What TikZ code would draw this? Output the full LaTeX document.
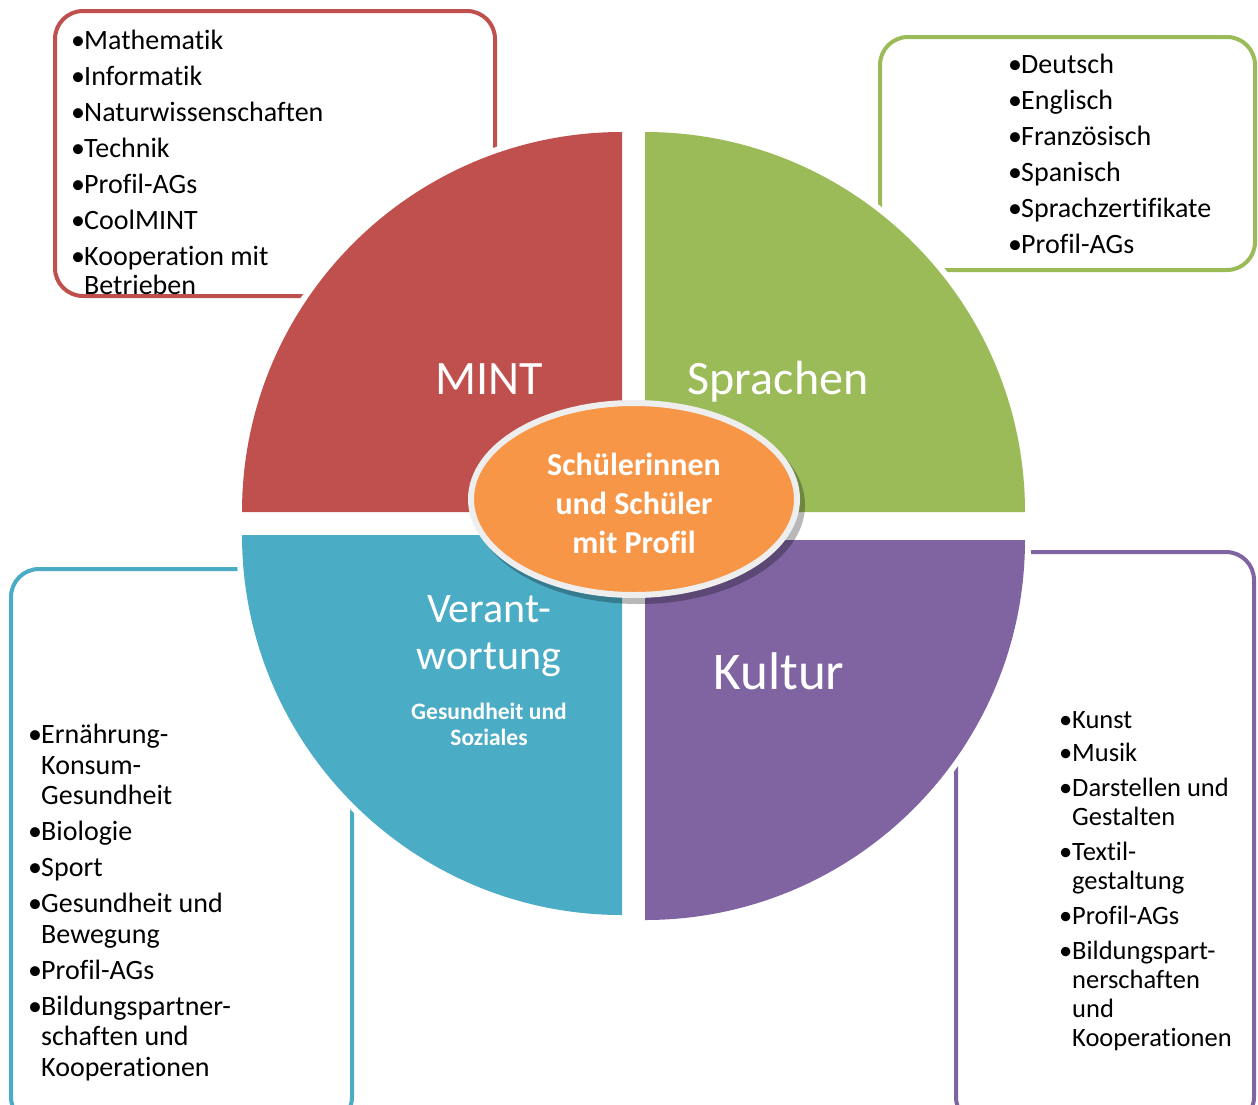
\documentclass[tikz,border=0pt]{standalone}
\usepackage{fontspec}
\setmainfont{Carlito}[Ligatures={NoCommon}]
\usetikzlibrary{shapes.geometric}
\definecolor{cred}{HTML}{C0504D}
\definecolor{cgreen}{HTML}{9BBB59}
\definecolor{cblue}{HTML}{4BACC6}
\definecolor{cpurple}{HTML}{8064A2}
\definecolor{corange}{HTML}{F79646}
\definecolor{cring}{HTML}{EEEEEE}
\newcommand{\bu}{\makebox[13pt][l]{•}}
\newcommand{\hg}{\hspace*{13pt}}
\begin{document}
\begin{tikzpicture}[x=1pt,y=-1pt,
  listbox/.style={draw=#1, line width=4pt, rounded corners=28pt},
  gapband/.style={draw=white, fill=white, line width=12pt, line join=round},
  listtext/.style={anchor=base west, inner sep=0pt, align=left, font=\fontsize{28}{30}\selectfont},
  biglabel/.style={text=white, anchor=base, inner sep=0pt, align=center},
]
\useasboundingbox (0,0) rectangle (1258,1104);
\fill[white] (0,0) rectangle (1258,1104);

% list boxes
\draw[listbox=cred] (55,11) rectangle (495,296);
\draw[listbox=cgreen] (880,37) rectangle (1255,270);
\draw[listbox=cblue] (11,569) rectangle (352,1125);
\draw[listbox=cpurple] (956,552) rectangle (1254,1125);

% white bands round the quadrants
\path[gapband] (622,512) -- (242,512) arc[start angle=180, end angle=270, radius=380] -- cycle;
\path[gapband] (645,512) -- (645,132) arc[start angle=270, end angle=360, radius=380] -- cycle;
\path[gapband] (622,535) -- (242,535) arc[start angle=180, end angle=90, radius=380] -- cycle;
\path[gapband] (645,540) -- (1025,540) arc[start angle=0, end angle=90, radius=380] -- cycle;

% quadrants
\fill[cred] (622,512) -- (242,512) arc[start angle=180, end angle=270, radius=380] -- cycle;
\fill[cgreen] (645,512) -- (645,132) arc[start angle=270, end angle=360, radius=380] -- cycle;
\fill[cblue] (622,535) -- (242,535) arc[start angle=180, end angle=90, radius=380] -- cycle;
\fill[cpurple] (645,540) -- (1025,540) arc[start angle=0, end angle=90, radius=380] -- cycle;

% quadrant labels
\node[biglabel, font=\fontsize{48}{50}\selectfont] (mint) at (489,394) {MINT};
\node[biglabel, font=\fontsize{48}{50}\selectfont] (spr) at (778,394) {Sprachen};
\node[biglabel, font=\fontsize{53}{54}\selectfont] (kul) at (779,689) {Kultur};
\node[biglabel, font=\fontsize{42}{47}\selectfont] (ver) at (489,669) {Verant-\\wortung};
\node[biglabel, font=\bfseries\fontsize{23.5}{26}\selectfont] (ges) at (489,745) {Gesundheit und\\Soziales};

% centre ellipse
\fill[black, opacity=0.28] (639,505) ellipse [x radius=166, y radius=99];
\node[ellipse, draw=cring, line width=6pt, fill=corange, minimum width=326pt, minimum height=192pt, inner sep=0pt] (ell) at (634,499) {};
\node[text=white, inner sep=0pt, align=center, anchor=base, font=\bfseries\fontsize{32}{39}\selectfont] (elltext) at (634,553) {Schülerinnen\\und Schüler\\mit Profil};

% lists
\node[listtext] (lmint) at (71,294) {\bu Mathematik\\[6pt]
\bu Informatik\\[6pt]
\bu Naturwissenschaften\\[6pt]
\bu Technik\\[6pt]
\bu Profil-AGs\\[6pt]
\bu CoolMINT\\[6pt]
\bu Kooperation mit\\[-1pt]
\hg Betrieben};

\node[listtext] (lspr) at (1008,253) {\bu Deutsch\\[6pt]
\bu Englisch\\[6pt]
\bu Französisch\\[6pt]
\bu Spanisch\\[6pt]
\bu Sprachzertifikate\\[6pt]
\bu Profil-AGs};

\node[listtext, font=\fontsize{28}{30.5}\selectfont] (lver) at (28,1076) {\bu Ernährung-\\
\hg Konsum-\\
\hg Gesundheit\\[5.5pt]
\bu Biologie\\[5.5pt]
\bu Sport\\[5.5pt]
\bu Gesundheit und\\
\hg Bewegung\\[5.5pt]
\bu Profil-AGs\\[5.5pt]
\bu Bildungspartner-\\
\hg schaften und\\
\hg Kooperationen};

\node[listtext, font=\fontsize{26.5}{29}\selectfont] (lkul) at (1059,1046) {\bu Kunst\\[4pt]
\bu Musik\\[6pt]
\bu Darstellen und\\
\hg Gestalten\\[6pt]
\bu Textil-\\
\hg gestaltung\\[5.5pt]
\bu Profil-AGs\\[6pt]
\bu Bildungspart-\\
\hg nerschaften\\
\hg und\\
\hg Kooperationen};
\end{tikzpicture}
\end{document}
